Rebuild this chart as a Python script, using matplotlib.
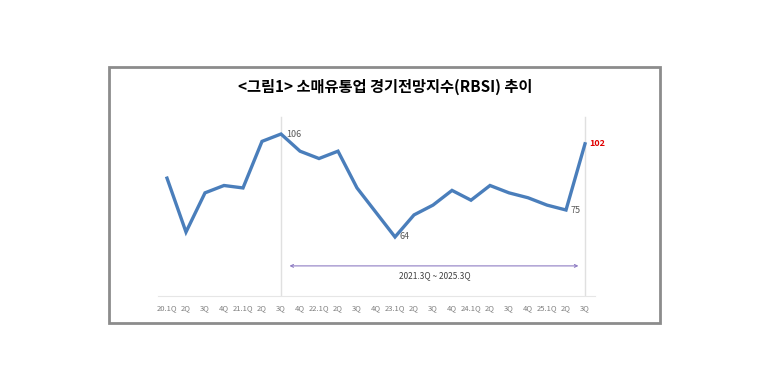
import matplotlib.pyplot as plt
from matplotlib.patches import Rectangle

plt.rcParams['font.family'] = ['Noto Sans CJK KR', 'DejaVu Sans']

# 분기 라벨과 RBSI 값
quarters = ['20.1Q', '2Q', '3Q', '4Q', '21.1Q', '2Q', '3Q', '4Q', '22.1Q', '2Q', '3Q', '4Q',
            '23.1Q', '2Q', '3Q', '4Q', '24.1Q', '2Q', '3Q', '4Q', '25.1Q', '2Q', '3Q']
rbsi = [88, 66, 82, 85, 84, 103, 106, 99, 96, 99, 84, 74,
        64, 73, 77, 83, 79, 85, 82, 80, 77, 75, 102]

# 값 표시할 지점 (인덱스, 색, 굵기)
labels = [(6, '#595959', 'normal'), (12, '#595959', 'normal'),
          (21, '#595959', 'normal'), (22, '#e00000', 'bold')]

fig = plt.figure(figsize=(7.68, 3.84), dpi=100)

# 바깥 회색 테두리
fig.patches.append(Rectangle((109 / 768, 1 - 323 / 384), 551 / 768, 256 / 384,
                             transform=fig.transFigure, fill=False,
                             edgecolor='#8c8c8c', linewidth=2))

fig.text(385 / 768, 1 - 87 / 384, '<그림1> 소매유통업 경기전망지수(RBSI) 추이',
         ha='center', va='center', fontsize=11, fontweight='bold', color='black')

ax = fig.add_axes([157.5 / 768, 1 - 295.8 / 384, 437 / 768, 196.1 / 384])
x = list(range(len(rbsi)))
ax.plot(x, rbsi, color='#4a7ebb', linewidth=2.4, solid_joinstyle='miter', zorder=3)

ax.set_xlim(-0.5, len(rbsi) - 0.5)
ax.set_ylim(40, 120)
ax.set_xticks(x)
ax.set_xticklabels(quarters, fontsize=5.5, color='#7f7f7f')
ax.tick_params(axis='x', length=0, pad=6)
ax.set_yticks([])
for s in ['top', 'left', 'right']:
    ax.spines[s].set_visible(False)
ax.spines['bottom'].set_color('#e6e6e6')

# 기간 구분선
for xi in [6, 22]:
    ax.plot([xi, xi], [40, 113], color='#e0e0e0', linewidth=1, zorder=1)

for i, c, w in labels:
    ax.text(i + 0.25, rbsi[i], str(rbsi[i]), color=c, fontweight=w,
            fontsize=6.5, ha='left', va='center')

ax.annotate('', xy=(6.3, 52.2), xytext=(21.8, 52.2),
            arrowprops=dict(arrowstyle='<->', color='#8e7cc3', linewidth=0.8,
                            mutation_scale=5))
ax.text(14.1, 48.1, '2021.3Q ~ 2025.3Q', fontsize=6, color='#404040',
        ha='center', va='center')

fig.savefig('out.png', dpi=100)
